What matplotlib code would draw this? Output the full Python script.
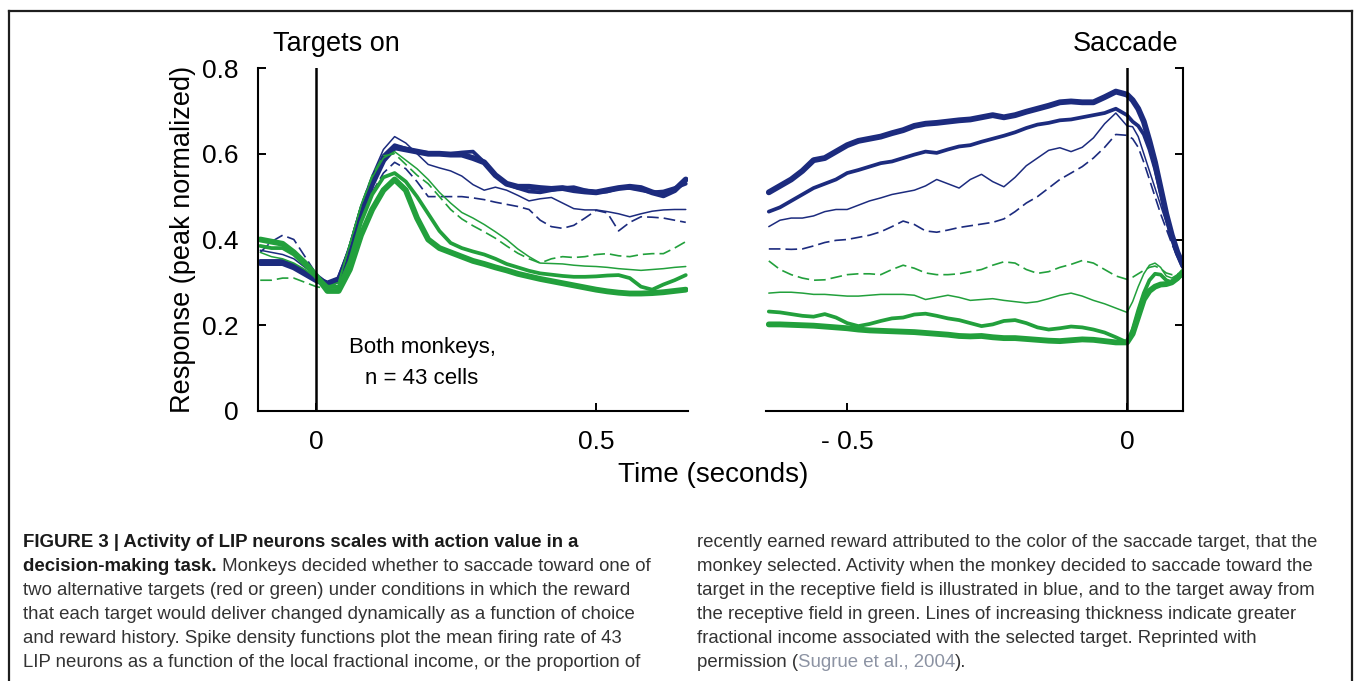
import matplotlib
matplotlib.use('Agg')
import matplotlib.pyplot as plt
from matplotlib.lines import Line2D

# time base for the target-onset aligned traces (s)
t_on = [-0.10, -0.08, -0.06, -0.04, -0.02, 0.00, 0.02, 0.04, 0.06, 0.08,
        0.10, 0.12, 0.14, 0.16, 0.18, 0.20, 0.22, 0.24, 0.26, 0.28,
        0.30, 0.32, 0.34, 0.36, 0.38, 0.40, 0.42, 0.44, 0.46, 0.48,
        0.50, 0.52, 0.54, 0.56, 0.58, 0.60, 0.62, 0.64, 0.66]

# choices into the response field (blue), low -> high fractional income
on_blue_1 = [0.370, 0.395, 0.410, 0.400, 0.360, 0.320, 0.300, 0.305, 0.370, 0.450,
             0.510, 0.555, 0.580, 0.565, 0.535, 0.500, 0.500, 0.500, 0.500, 0.497,
             0.493, 0.487, 0.482, 0.477, 0.470, 0.445, 0.430, 0.426, 0.433, 0.450,
             0.468, 0.462, 0.420, 0.440, 0.453, 0.452, 0.450, 0.445, 0.440]
on_blue_2 = [0.375, 0.370, 0.365, 0.355, 0.335, 0.315, 0.300, 0.310, 0.390, 0.480,
             0.550, 0.610, 0.640, 0.625, 0.600, 0.575, 0.567, 0.560, 0.548, 0.528,
             0.515, 0.522, 0.515, 0.503, 0.490, 0.495, 0.498, 0.485, 0.472, 0.469,
             0.469, 0.465, 0.460, 0.453, 0.460, 0.466, 0.469, 0.470, 0.470]
on_blue_3 = [0.350, 0.350, 0.350, 0.340, 0.325, 0.310, 0.300, 0.310, 0.380, 0.470,
             0.540, 0.595, 0.620, 0.612, 0.605, 0.602, 0.600, 0.600, 0.603, 0.605,
             0.580, 0.550, 0.530, 0.520, 0.512, 0.510, 0.515, 0.520, 0.522, 0.515,
             0.510, 0.512, 0.520, 0.520, 0.515, 0.510, 0.512, 0.520, 0.530]
on_blue_4 = [0.345, 0.345, 0.345, 0.335, 0.320, 0.305, 0.295, 0.305, 0.370, 0.460,
             0.530, 0.585, 0.615, 0.610, 0.605, 0.600, 0.600, 0.598, 0.598, 0.590,
             0.580, 0.550, 0.530, 0.523, 0.523, 0.520, 0.518, 0.520, 0.515, 0.512,
             0.510, 0.515, 0.520, 0.523, 0.520, 0.510, 0.503, 0.515, 0.540]

# choices away from the response field (green)
on_green_1 = [0.305, 0.305, 0.310, 0.310, 0.300, 0.290, 0.285, 0.300, 0.390, 0.480,
              0.550, 0.595, 0.600, 0.575, 0.550, 0.530, 0.500, 0.470, 0.448, 0.432,
              0.418, 0.403, 0.385, 0.368, 0.355, 0.345, 0.355, 0.360, 0.358, 0.360,
              0.365, 0.367, 0.362, 0.360, 0.365, 0.367, 0.367, 0.380, 0.395]
on_green_2 = [0.370, 0.360, 0.355, 0.345, 0.330, 0.310, 0.290, 0.300, 0.390, 0.480,
              0.545, 0.590, 0.605, 0.585, 0.565, 0.540, 0.510, 0.485, 0.463, 0.450,
              0.435, 0.418, 0.400, 0.378, 0.360, 0.345, 0.344, 0.343, 0.340, 0.338,
              0.337, 0.335, 0.332, 0.330, 0.328, 0.330, 0.332, 0.335, 0.337]
on_green_3 = [0.385, 0.380, 0.380, 0.365, 0.340, 0.315, 0.290, 0.290, 0.350, 0.440,
              0.505, 0.545, 0.555, 0.535, 0.500, 0.460, 0.420, 0.392, 0.380, 0.372,
              0.365, 0.355, 0.343, 0.335, 0.327, 0.321, 0.318, 0.315, 0.313, 0.313,
              0.314, 0.316, 0.317, 0.310, 0.290, 0.283, 0.295, 0.305, 0.317]
on_green_4 = [0.400, 0.395, 0.390, 0.370, 0.345, 0.315, 0.280, 0.280, 0.330, 0.410,
              0.470, 0.515, 0.540, 0.515, 0.450, 0.400, 0.380, 0.370, 0.360, 0.350,
              0.343, 0.335, 0.328, 0.320, 0.314, 0.308, 0.303, 0.298, 0.293, 0.288,
              0.283, 0.279, 0.276, 0.274, 0.274, 0.275, 0.277, 0.280, 0.283]

# time base for the saccade aligned traces (s)
t_sac = [-0.64, -0.62, -0.60, -0.58, -0.56, -0.54, -0.52, -0.50, -0.48, -0.46,
         -0.44, -0.42, -0.40, -0.38, -0.36, -0.34, -0.32, -0.30, -0.28, -0.26,
         -0.24, -0.22, -0.20, -0.18, -0.16, -0.14, -0.12, -0.10, -0.08, -0.06,
         -0.04, -0.02, 0.00, 0.01, 0.02, 0.03, 0.04, 0.05, 0.06, 0.07,
         0.08, 0.09, 0.10]

sac_blue_1 = [0.378, 0.378, 0.377, 0.378, 0.385, 0.393, 0.398, 0.400, 0.405, 0.410,
              0.418, 0.430, 0.443, 0.435, 0.420, 0.417, 0.422, 0.428, 0.432, 0.436,
              0.440, 0.448, 0.465, 0.485, 0.500, 0.520, 0.540, 0.555, 0.570, 0.590,
              0.615, 0.645, 0.643, 0.635, 0.615, 0.580, 0.540, 0.500, 0.460, 0.425,
              0.390, 0.360, 0.335]
sac_blue_2 = [0.430, 0.445, 0.450, 0.450, 0.455, 0.465, 0.470, 0.470, 0.480, 0.490,
              0.497, 0.505, 0.510, 0.515, 0.525, 0.540, 0.530, 0.520, 0.540, 0.552,
              0.535, 0.523, 0.545, 0.572, 0.590, 0.608, 0.614, 0.605, 0.615, 0.637,
              0.670, 0.695, 0.665, 0.663, 0.640, 0.600, 0.560, 0.520, 0.480, 0.440,
              0.400, 0.365, 0.335]
sac_blue_3 = [0.465, 0.475, 0.490, 0.505, 0.520, 0.530, 0.540, 0.555, 0.562, 0.570,
              0.578, 0.582, 0.590, 0.598, 0.605, 0.602, 0.610, 0.617, 0.620, 0.628,
              0.635, 0.642, 0.650, 0.660, 0.668, 0.672, 0.678, 0.680, 0.685, 0.690,
              0.695, 0.705, 0.690, 0.675, 0.665, 0.645, 0.610, 0.565, 0.510, 0.455,
              0.405, 0.365, 0.335]
sac_blue_4 = [0.510, 0.525, 0.540, 0.560, 0.585, 0.590, 0.605, 0.620, 0.630, 0.635,
              0.640, 0.648, 0.655, 0.665, 0.670, 0.672, 0.675, 0.678, 0.680, 0.685,
              0.690, 0.685, 0.690, 0.698, 0.705, 0.712, 0.720, 0.722, 0.720, 0.720,
              0.732, 0.745, 0.738, 0.725, 0.705, 0.675, 0.630, 0.580, 0.520, 0.460,
              0.410, 0.370, 0.340]

sac_green_1 = [0.350, 0.330, 0.318, 0.310, 0.305, 0.306, 0.312, 0.318, 0.320, 0.320,
               0.318, 0.330, 0.340, 0.333, 0.322, 0.318, 0.318, 0.320, 0.325, 0.330,
               0.340, 0.348, 0.345, 0.330, 0.321, 0.325, 0.335, 0.342, 0.351, 0.345,
               0.330, 0.315, 0.307, 0.312, 0.320, 0.328, 0.335, 0.338, 0.332, 0.322,
               0.318, 0.320, 0.322]
sac_green_2 = [0.275, 0.277, 0.277, 0.275, 0.272, 0.272, 0.270, 0.268, 0.268, 0.270,
               0.272, 0.272, 0.272, 0.270, 0.260, 0.265, 0.270, 0.265, 0.258, 0.260,
               0.262, 0.258, 0.255, 0.252, 0.255, 0.262, 0.270, 0.275, 0.268, 0.258,
               0.250, 0.240, 0.230, 0.255, 0.290, 0.320, 0.340, 0.345, 0.335, 0.315,
               0.310, 0.318, 0.325]
sac_green_3 = [0.232, 0.230, 0.226, 0.222, 0.220, 0.226, 0.218, 0.205, 0.198, 0.203,
               0.210, 0.216, 0.218, 0.225, 0.227, 0.222, 0.216, 0.212, 0.205, 0.198,
               0.202, 0.210, 0.212, 0.205, 0.195, 0.190, 0.193, 0.197, 0.195, 0.190,
               0.183, 0.172, 0.160, 0.190, 0.235, 0.275, 0.305, 0.320, 0.318, 0.305,
               0.300, 0.308, 0.320]
sac_green_4 = [0.202, 0.202, 0.201, 0.200, 0.199, 0.197, 0.195, 0.193, 0.190, 0.188,
               0.187, 0.186, 0.185, 0.184, 0.182, 0.180, 0.178, 0.175, 0.174, 0.175,
               0.172, 0.170, 0.170, 0.168, 0.166, 0.164, 0.163, 0.165, 0.167, 0.166,
               0.163, 0.160, 0.160, 0.180, 0.220, 0.260, 0.280, 0.290, 0.295, 0.296,
               0.300, 0.310, 0.325]

y_ticks = [0, 0.2, 0.4, 0.6, 0.8]
y_ticklabels = ['0', '0.2', '0.4', '0.6', '0.8']

BLUE = '#1c2b7e'
GREEN = '#22a03c'
font = ['Liberation Sans', 'DejaVu Sans']

# line style per income level: dashed thin, thin, medium, thick
styles = [dict(lw=1.2, ls=(0, (7, 3))), dict(lw=1.1), dict(lw=2.7), dict(lw=4.2)]

fig = plt.figure(figsize=(13.55, 6.81), dpi=100)
W, H = 1355, 681

ax1 = fig.add_axes([258 / W, 1 - 411 / H, 430 / W, 343 / H])
ax2 = fig.add_axes([766 / W, 1 - 411 / H, 417 / W, 343 / H])

for ax, t, blues, greens in [
        (ax1, t_on, [on_blue_1, on_blue_2, on_blue_3, on_blue_4],
         [on_green_1, on_green_2, on_green_3, on_green_4]),
        (ax2, t_sac, [sac_blue_1, sac_blue_2, sac_blue_3, sac_blue_4],
         [sac_green_1, sac_green_2, sac_green_3, sac_green_4])]:
    for vals, st in zip(blues, styles):
        ax.plot(t, vals, color=BLUE, solid_capstyle='round', solid_joinstyle='round',
                dash_capstyle='butt', **st)
    for vals, st in zip(greens, styles):
        ax.plot(t, vals, color=GREEN, solid_capstyle='round', solid_joinstyle='round',
                dash_capstyle='butt', **st)
    ax.axvline(0, color='black', lw=1.8, zorder=5)
    ax.set_ylim(0, 0.8)
    ax.set_yticks(y_ticks)
    for s in ax.spines.values():
        s.set_linewidth(1.5)
    ax.tick_params(direction='in', length=6, width=1.4, labelsize=19, pad=14)

ax1.set_xlim(-0.104, 0.664)
ax1.spines['top'].set_visible(False)
ax1.spines['right'].set_visible(False)
ax1.set_xticks([0, 0.5])
ax1.set_xticklabels(['0', '0.5'], family=font, fontsize=19)
ax1.set_yticklabels(y_ticklabels, family=font, fontsize=19)
ax1.set_ylabel('Response (peak normalized)', family=font, fontsize=19.5)
ax1.yaxis.set_label_coords(-0.145, 0.5)

ax2.set_xlim(-0.645, 0.1)
ax2.spines['top'].set_visible(False)
ax2.spines['left'].set_visible(False)
ax2.yaxis.tick_right()
ax2.tick_params(axis='y', labelright=False)
ax2.set_xticks([-0.5, 0])
ax2.set_xticklabels(['- 0.5', '0'], family=font, fontsize=19)

fig.text(336 / W, 1 - 44 / H, 'Targets on', family=font, fontsize=19.5,
         ha='center', va='center')
fig.text(1126 / W, 1 - 44 / H, 'Saccade', family=font, fontsize=19.5,
         ha='center', va='center')
fig.text(422 / W, 1 - 348 / H, 'Both monkeys,', family=font, fontsize=16,
         ha='center', va='center')
fig.text(422 / W, 1 - 378 / H, 'n = 43 cells', family=font, fontsize=16,
         ha='center', va='center')
fig.text(713 / W, 1 - 475 / H, 'Time (seconds)', family=font, fontsize=20,
         ha='center', va='center')

# frame around the figure (open at the bottom)
frame = dict(color='#1e1e1e', lw=1.6, transform=fig.transFigure)
fig.add_artist(Line2D([9 / W, 9 / W], [0, 1 - 11 / H], **frame))
fig.add_artist(Line2D([9 / W, 1352 / W], [1 - 11 / H, 1 - 11 / H], **frame))
fig.add_artist(Line2D([1352 / W, 1352 / W], [0, 1 - 11 / H], **frame))

# caption, two columns
cap_font = ['Liberation Sans', 'DejaVu Sans']
cap_fs = 13.4
cap_col = '#333333'
renderer = fig.canvas.get_renderer()


def caption_line(x, y, runs):
    for s, weight, color in runs:
        txt = fig.text(x / W, 1 - y / H, s, family=cap_font, fontsize=cap_fs,
                       fontweight=weight, color=color, va='baseline', ha='left')
        x += txt.get_window_extent(renderer=renderer).width


left_lines = [
    [('FIGURE 3 | Activity of LIP neurons scales with action value in a', 'bold', '#1a1a1a')],
    [('decision-making task.', 'bold', '#1a1a1a'),
     (' Monkeys decided whether to saccade toward one of', 'normal', cap_col)],
    [('two alternative targets (red or green) under conditions in which the reward', 'normal', cap_col)],
    [('that each target would deliver changed dynamically as a function of choice', 'normal', cap_col)],
    [('and reward history. Spike density functions plot the mean firing rate of 43', 'normal', cap_col)],
    [('LIP neurons as a function of the local fractional income, or the proportion of', 'normal', cap_col)],
]
right_lines = [
    [('recently earned reward attributed to the color of the saccade target, that the', 'normal', cap_col)],
    [('monkey selected. Activity when the monkey decided to saccade toward the', 'normal', cap_col)],
    [('target in the receptive field is illustrated in blue, and to the target away from', 'normal', cap_col)],
    [('the receptive field in green. Lines of increasing thickness indicate greater', 'normal', cap_col)],
    [('fractional income associated with the selected target. Reprinted with', 'normal', cap_col)],
    [('permission (', 'normal', cap_col), ('Sugrue et al., 2004', 'normal', '#8c93a3'),
     (').', 'normal', cap_col)],
]
for i, runs in enumerate(left_lines):
    caption_line(23, 547 + 24 * i, runs)
for i, runs in enumerate(right_lines):
    caption_line(697, 547 + 24 * i, runs)

fig.savefig('out.png', dpi=100, facecolor='white')
